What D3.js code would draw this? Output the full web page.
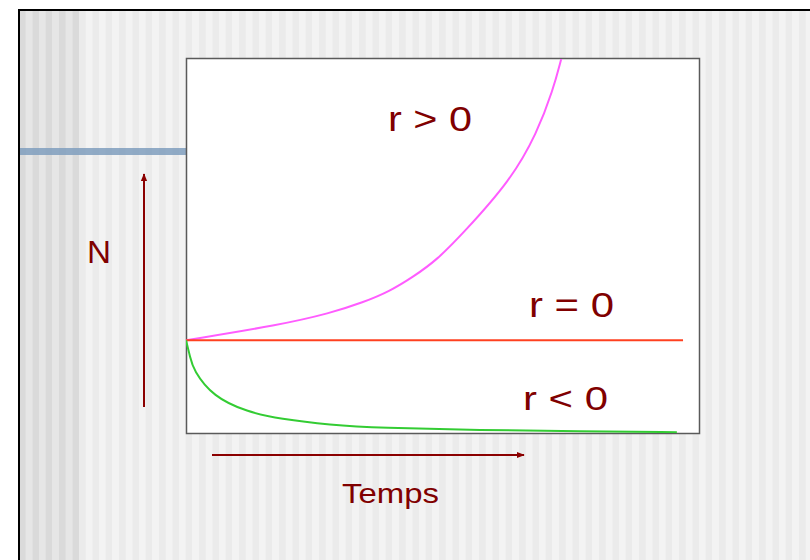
<!DOCTYPE html>
<html>
<head>
<meta charset="utf-8">
<script src="https://cdn.jsdelivr.net/npm/d3@7"></script>
<style>
  body { margin: 0; background: #fff; }
  svg { display: block; }
  text { font-family: Arial, "Liberation Sans", sans-serif; fill: #800000; }
</style>
</head>
<body>
<svg id="chart" width="810" height="560"></svg>
<script>
// time (arbitrary units 0-100) and population N (0-100)
var tGrowth = [0, 18.3, 28, 34.5, 39.7, 44.2, 48.8, 53.9, 63.2, 68.3, 71.4, 73];
var nGrowth = [25, 29.1, 32.2, 35.1, 38.1, 41.9, 46.4, 53.5, 67.7, 80.3, 91.7, 100];

var tFlat = [0, 96.7];
var nFlat = [25, 25];

var tDecay = [0, 0.8, 1.4, 5.3, 11.9, 18.3, 28, 37.7, 57.2, 76.7, 95.5];
var nDecay = [25, 20.6, 17.1, 9.9, 5.9, 4, 2.4, 1.6, 1.05, 0.75, 0.5];

var seriesNames = ["r > 0", "r = 0", "r < 0"];
var axisNames = ["N", "Temps"];

var svg = d3.select("#chart"),
  width = +svg.attr("width"),
  height = +svg.attr("height"),
  box = {left: 186, top: 59, right: 700, bottom: 434},
  darkRed = "#8b0000";

var x = d3.scaleLinear().domain([0, 100]).range([box.left, box.right]),
  y = d3.scaleLinear().domain([0, 100]).range([box.bottom, box.top]);

// slide background: striped panel with a black frame
var stripeW = 20 / 3;
for (var i = 0; 19 + i * stripeW < width; i++) {
  var sx = 19 + i * stripeW, col;
  if (sx < 78) col = (i % 2 === 0) ? "#dadada" : "#e6e6e6";
  else col = (i % 2 === 0) ? "#f3f3f3" : "#ebebeb";
  svg.append("rect")
    .attr("x", sx).attr("y", 10)
    .attr("width", stripeW + 0.3).attr("height", height)
    .attr("fill", col);
}
svg.append("rect")
  .attr("x", 19).attr("y", 10)
  .attr("width", width + 20).attr("height", height + 20)
  .attr("fill", "none").attr("stroke", "#000").attr("stroke-width", 2);

svg.append("rect")
  .attr("x", 20).attr("y", 148)
  .attr("width", box.left - 20).attr("height", 7)
  .attr("fill", "#7f9dbd").attr("opacity", 0.85);

// plot box
svg.append("rect")
  .attr("x", box.left + 0.5).attr("y", box.top - 0.5)
  .attr("width", box.right - box.left - 1).attr("height", box.bottom - box.top)
  .attr("fill", "#fff").attr("stroke", "#5a5a5a").attr("stroke-width", 1.5);

svg.append("clipPath").attr("id", "clip")
  .append("rect")
  .attr("x", box.left).attr("y", box.top)
  .attr("width", box.right - box.left).attr("height", box.bottom - box.top);

var line = d3.line()
  .x(function(d) { return x(d[0]); })
  .y(function(d) { return y(d[1]); })
  .curve(d3.curveBasis);

var curves = [
  {t: tGrowth, n: nGrowth, color: "#ff5cff", w: 2},
  {t: tFlat, n: nFlat, color: "#ff4020", w: 2},
  {t: tDecay, n: nDecay, color: "#33cc33", w: 2}
];
curves.forEach(function(c) {
  svg.append("path")
    .datum(d3.zip(c.t, c.n))
    .attr("clip-path", "url(#clip)")
    .attr("d", line)
    .attr("fill", "none")
    .attr("stroke", c.color)
    .attr("stroke-width", c.w);
});

// arrows for the axes
svg.append("defs").append("marker")
  .attr("id", "arrow")
  .attr("viewBox", "0 0 10 10")
  .attr("refX", 9).attr("refY", 5)
  .attr("markerWidth", 4).attr("markerHeight", 4)
  .attr("orient", "auto")
  .append("path").attr("d", "M0,1L10,5L0,9Z").attr("fill", darkRed);

svg.append("line")
  .attr("x1", 144).attr("y1", 407).attr("x2", 144).attr("y2", 174)
  .attr("stroke", darkRed).attr("stroke-width", 2)
  .attr("marker-end", "url(#arrow)");
svg.append("line")
  .attr("x1", 212).attr("y1", 455).attr("x2", 524).attr("y2", 455)
  .attr("stroke", darkRed).attr("stroke-width", 2)
  .attr("marker-end", "url(#arrow)");

// labels
function label(txt, lx, ly, size, len) {
  svg.append("text")
    .attr("x", lx).attr("y", ly)
    .attr("font-size", size)
    .attr("textLength", len)
    .attr("lengthAdjust", "spacingAndGlyphs")
    .text(txt);
}
label(seriesNames[0], 388, 131, 35, 84);
label(seriesNames[1], 529, 317, 35, 85);
label(seriesNames[2], 523, 410, 34, 85);
label(axisNames[0], 87, 263, 32, 24);
label(axisNames[1], 342, 503, 28, 97);
</script>
</body>
</html>
